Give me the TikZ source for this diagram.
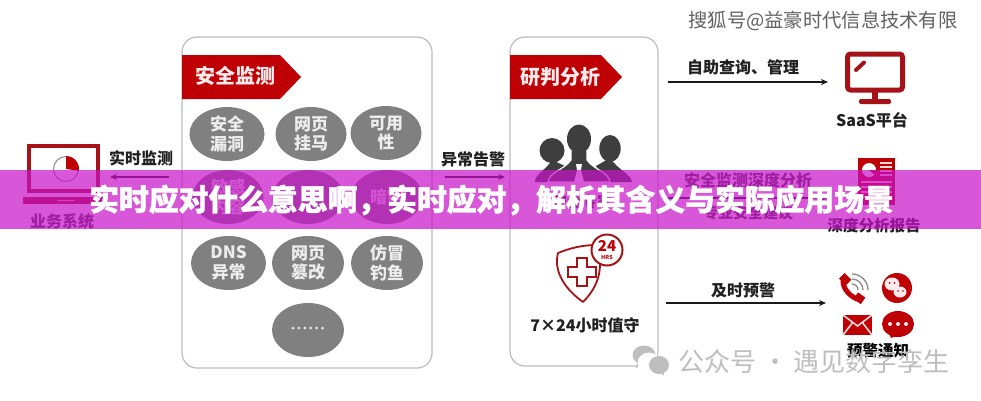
\documentclass[tikz,border=0pt]{standalone}
\usepackage{fontspec}
\setmainfont{Noto Sans CJK SC}
\newfontfamily\titlefont[BoldFeatures={FakeBold=1.3}]{Noto Sans CJK SC}
\usetikzlibrary{arrows.meta,shapes.geometric}
\definecolor{tagred}{RGB}{190,0,5}
\definecolor{darkred}{RGB}{165,18,24}
\definecolor{ovalgray}{RGB}{128,128,128}
\definecolor{panelline}{RGB}{188,188,188}
\definecolor{bandcol}{RGB}{201,18,201}
\definecolor{ink}{RGB}{32,32,32}
\definecolor{wm}{RGB}{190,190,190}
\definecolor{sil}{RGB}{62,62,62}
\tikzset{
  panel/.style={draw=panelline,line width=1.2pt,fill=white,rounded corners=15pt},
  tagbox/.style={fill=tagred},
  tagtext/.style={text=white!92!red,font=\fontsize{20}{20}\selectfont\bfseries,inner sep=0pt},
  oval/.style={ellipse,fill=ovalgray,draw=none,inner sep=0pt,text=white!93!black,align=center,
    font=\fontsize{17}{19.5}\selectfont\bfseries},
  lbl/.style={text=ink,inner sep=0pt,font=\fontsize{16}{16}\selectfont\bfseries},
  conn/.style={draw=black!90,line width=1.4pt,-{Stealth[length=7pt,width=6pt]}},
}
\begin{document}
\begin{tikzpicture}[x=1pt,y=-1pt]
\useasboundingbox (0,0) rectangle (981,400);
\fill[white] (0,0) rectangle (981,400);

% watermark top
\node[inner sep=0pt,text=black!62,font=\fontsize{19.3}{19.3}\selectfont] (wmtop) at (823,21) {搜狐号@益豪时代信息技术有限};

% panels
\draw[panel] (182,37) rectangle (432,368);
\draw[panel] (510,37) rectangle (658,366);

% tags
\fill[tagbox] (182,55) -- (280,55) -- (301,77) -- (280,99) -- (182,99) -- cycle;
\node[tagtext] (tag1) at (235,76) {安全监测};
\fill[tagbox] (510,55) -- (601,55) -- (622,77) -- (601,99) -- (510,99) -- cycle;
\node[tagtext] (tag2) at (560,77) {研判分析};

% ovals
\node[oval,minimum width=75pt,minimum height=54pt] (o1) at (227,134) {安全\\漏洞};
\node[oval,minimum width=71pt,minimum height=54pt] (o2) at (311,134) {网页\\挂马};
\node[oval,minimum width=71pt,minimum height=54pt] (o3) at (386,133) {可用\\性};
\node[oval,minimum width=71pt,minimum height=54pt] (o4) at (228,197) {敏感\\内容};
\node[oval,minimum width=71pt,minimum height=54pt] (o5) at (308,197) {};
\node[oval,minimum width=71pt,minimum height=54pt] (o6) at (387,197) {暗链};
\node[oval,minimum width=75pt,minimum height=54pt] (o7) at (228.5,263) {DNS\\异常};
\node[oval,minimum width=72pt,minimum height=54pt] (o8) at (308,263) {网页\\篡改};
\node[oval,minimum width=72pt,minimum height=54pt] (o9) at (387,263) {仿冒\\钓鱼};
\node[oval,minimum width=72pt,minimum height=54pt] (o10) at (308,330) {};
\foreach \i in {0,...,5} \fill[white!92!black] (293+\i*5.9,328) circle (1.5);

% laptop
\draw[darkred,line width=4pt] (29,146) rectangle (98,191);
\fill[darkred] (23,197) rectangle (103,204);
\fill[white!70!red] (57,199.5) rectangle (74,201);
\draw[black!45,line width=1pt] (66,169) circle (12.5);
\fill[tagred] (66,169) -- (66,156) arc (-90:8:13) -- cycle;
\node[inner sep=0pt,text=sil,font=\fontsize{16}{16}\selectfont\bfseries] (biz) at (62,221) {业务系统};

% left connector
\node[lbl] (lb1) at (141,158) {实时监测};
\coordinate (a1s) at (169,177);
\coordinate (a1e) at (110,177);
\draw[conn] (a1s) -- (a1e);

% middle connector
\node[lbl] (lb2) at (473,159) {异常告警};
\coordinate (a2s) at (445,177);
\coordinate (a2e) at (505,177);
\draw[conn] (a2s) -- (a2e);

% people
\fill[sil] (552,150.5) ellipse (12.5 and 12.5);
\fill[sil] (610,148.5) ellipse (10.7 and 13.5);
\fill[sil] (535,182) .. controls (535,174) and (546,170) .. (552,160) -- (565,166) -- (558,182) -- cycle;
\fill[sil] (632,182) .. controls (631,174) and (618,170) .. (610,158) -- (596,166) -- (604,182) -- cycle;
\fill[sil,draw=white,line width=1.2pt] (548,182) .. controls (549,172) and (564,170) .. (571,160) -- (571,150) -- (587,150) -- (587,160) .. controls (594,170) and (609,172) .. (610,182) -- cycle;
\fill[sil] (579,139) ellipse (12 and 14.5);
\fill[white] (576,164) -- (582,164) -- (581,170) -- (584,182) -- (574,182) -- (577,170) -- cycle;
\node[inner sep=0pt,text=sil,font=\fontsize{15}{15}\selectfont\bfseries] (exp) at (582,202) {安全专家};

% shield
\draw[darkred,line width=1.8pt,line join=round] (558,253) .. controls (570,248) and (583,245) .. (596,245)
  .. controls (604,265) and (600,285) .. (583,302) .. controls (566,290) and (553,272) .. (558,253) -- cycle;
\draw[darkred,line width=1.6pt,fill=white] (577,258) -- (587,258) -- (587,267) -- (596,267) -- (596,277) -- (587,277) -- (587,286) -- (577,286) -- (577,277) -- (568,277) -- (568,267) -- (577,267) -- cycle;
\draw[darkred,line width=2pt,fill=white] (607,250) circle (15.5);
\node[inner sep=0pt,text=tagred,font=\fontsize{15}{15}\selectfont\bfseries] (n24) at (607,246) {24};
\node[inner sep=0pt,text=tagred,font=\fontsize{5.5}{6}\selectfont\bfseries] (hrs) at (607,257) {HRS};
\node[inner sep=0pt,text=ink,font=\fontsize{16}{16}\selectfont\bfseries] (duty) at (585,325) {7×24小时值守};

% right connectors
\node[lbl] (lb3) at (743,67) {自助查询、管理};
\coordinate (a3s) at (668,82);
\coordinate (a3e) at (828,82);
\draw[conn] (a3s) -- (a3e);
\node[inner sep=0pt,text=sil,font=\fontsize{16}{16}\selectfont\bfseries] (lb4) at (748,180) {安全监测深度分析};
\coordinate (a4s) at (668,198);
\coordinate (a4e) at (828,198);
\draw[conn] (a4s) -- (a4e);
\node[inner sep=0pt,text=sil,font=\fontsize{15}{15}\selectfont\bfseries] (lb5) at (748,213) {专业安全建议};
\node[lbl] (lb6) at (743,290) {及时预警};
\coordinate (a5s) at (666,303);
\coordinate (a5e) at (826,303);
\draw[conn] (a5s) -- (a5e);

% monitor
\draw[darkred,line width=5pt,rounded corners=3pt] (847.5,54) rectangle (902.5,90);
\fill[darkred] (872,92) rectangle (878,101);
\fill[darkred,rounded corners=2pt] (859,99) rectangle (891,104);
\draw[darkred,line width=4pt,line cap=round] (856,70) -- (864,62.5);
\node[lbl] (saas) at (872,120) {SaaS平台};

% report icon
\fill[tagred] (858,158) rectangle (895,205);
\fill[white] (869,170) circle (7);
\fill[tagred] (869,170) -- (876.5,170) arc (0:40:7.5) -- cycle;
\foreach \yy in {162,166,170,174} \fill[white!85!red] (880,\yy) rectangle (892,\yy+1.6);
\foreach \yy in {181,186,191,196} \fill[white!85!red] (861,\yy) rectangle (892,\yy+1.6);
\node[inner sep=0pt,text=ink,font=\fontsize{15.5}{15.5}\selectfont\bfseries] (rep) at (874,226) {深度分析报告};

% phone
\draw[tagred,line width=5pt,line cap=round] (843,281) .. controls (843,289) and (850,296) .. (857,299);
\fill[tagred,rotate around={-45:(845,279)}] (840.5,275) rectangle (850,283);
\fill[tagred,rotate around={-35:(859,298)}] (855,294) rectangle (864,302);
\draw[black!45,line width=1.3pt] (852,284) arc (-90:0:6);
\draw[black!45,line width=1.3pt] (852,279) arc (-90:0:11);
\draw[black!45,line width=1.3pt] (852,274) arc (-90:0:16);

% wechat circle
\fill[tagred] (897,288) circle (15);
\fill[white!92!red] (892,284) ellipse (7.5 and 6.5);
\fill[white!92!red] (900,292) ellipse (6.5 and 5.5);
\fill[tagred] (889.5,283) circle (1) (894.5,283) circle (1) (898,291) circle (.9) (903,291) circle (.9);

% mail
\fill[tagred] (843,315) rectangle (872,335);
\draw[white!85!red,line width=1.6pt] (843,315) -- (857.5,326) -- (872,315) (843,335) -- (853,322) (872,335) -- (862,322);

% chat
\fill[tagred] (898,324) ellipse (16 and 13);
\fill[tagred] (889,333) -- (891,338) -- (899,335) -- cycle;
\foreach \xx in {890,898,906} \fill[white!92!red] (\xx,324) circle (2);
\node[inner sep=0pt,text=black,font=\fontsize{15.5}{15.5}\selectfont\bfseries] (notif) at (878,351) {预警通知};

% bottom watermark
\fill[wm] (644,355) ellipse (11.5 and 9.5);
\fill[wm] (638,361) -- (636,368) -- (644,364) -- cycle;
\fill[white] (649,363) ellipse (11.5 and 10.5);
\fill[wm] (659,365) ellipse (10 and 9);
\fill[wm] (658,372) -- (664,375.5) -- (663,370) -- cycle;
\node[inner sep=0pt,text=wm,font=\fontsize{26}{26}\selectfont] (wmbot) at (814,361) {公众号 · 遇见数字孪生};

% band
\fill[bandcol,fill opacity=.71] (0,170) rectangle (981,229);
\node[inner sep=0pt,text=white,font=\titlefont\fontsize{29.8}{30}\selectfont\bfseries] (title) at (491.5,200) {实时应对什么意思啊，实时应对，解析其含义与实际应用场景};
\end{tikzpicture}
\end{document}
